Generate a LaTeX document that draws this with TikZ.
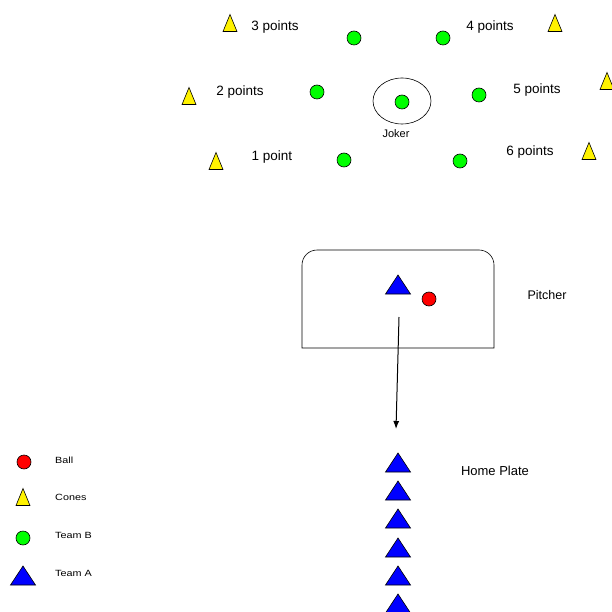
\documentclass[tikz,border=0pt]{standalone}
\usepackage{fontspec}
\setmainfont{Liberation Sans}
\usepackage{tikz}
\usetikzlibrary{calc,arrows,arrows.meta}

\tikzset{
  cone/.pic={\draw[fill=yellow, line width=0.6pt] (-7,8.5) -- (7,8.5) -- (0,-8.5) -- cycle;},
  player/.pic={\draw[fill=blue, line width=0.6pt] (-12.5,9) -- (12.5,9) -- (0,-10) -- cycle;},
  teamb/.style={circle, draw, fill=green, line width=0.6pt, inner sep=0pt, minimum size=14pt},
  ball/.style={circle, draw, fill=red, line width=0.6pt, inner sep=0pt, minimum size=14pt},
  lbl/.style={font=\fontsize{13.5}{15}\selectfont, inner sep=0pt},
  key/.style={font=\fontsize{9}{10}\selectfont, anchor=west, inner sep=0pt, xscale=1.2}
}

\begin{document}
\begin{tikzpicture}[x=1pt, y=-1pt]
			\useasboundingbox (0,0) rectangle (612,612);
			% cones and scores
			\pic at (230,23) {cone};
			\pic at (555,23) {cone};
			\pic at (189,96) {cone};
			\pic at (607,81) {cone};
			\pic at (216,161) {cone};
			\pic at (589,151) {cone};
			\node[lbl] (p3) at (275,27.5) {3 points};
			\node[lbl] (p4) at (490,27.5) {4 points};
			\node[lbl] (p2) at (240,92.5) {2 points};
			\node[lbl] (p5) at (537,90.5) {5 points};
			\node[lbl] (p1) at (272,157.5) {1 point};
			\node[lbl] (p6) at (530,152.5) {6 points};
			% team B in the circle
			\node[teamb] (b1) at (354,38) {};
			\node[teamb] (b2) at (443,38) {};
			\node[teamb] (b3) at (317,92) {};
			\node[teamb] (b4) at (479,95) {};
			\node[teamb] (b5) at (344,160) {};
			\node[teamb] (b6) at (460,161) {};
			\node[teamb] (joker) at (402,102) {};
			\draw[line width=0.6pt] (402,101) ellipse (29 and 23);
			\node[font=\fontsize{11}{12}\selectfont, inner sep=0pt] (jokerlbl) at (396,134) {Joker};
			% pitcher's area
			\draw[line width=0.6pt] (302,348) -- (302,265) arc[start angle=180, end angle=270, radius=15]
				-- (479,250) arc[start angle=270, end angle=360, radius=15] -- (494,348) -- cycle;
			\pic at (398,285) {player};
			\node[ball] (pball) at (429,299) {};
			\node[font=\fontsize{12.5}{14}\selectfont, inner sep=0pt] (pitcher) at (547,295) {Pitcher};
			\coordinate (throw) at (399,317);
			\coordinate (catch) at (396,429);
			\draw[-{Latex[length=8pt,width=6pt]}, line width=1pt] (throw) -- (catch);
			% team A at home plate
			\foreach \y in {463,491,519,548,576,604}
				\pic at (398,\y) {player};
			\node[font=\fontsize{13}{15}\selectfont, inner sep=0pt] (home) at (495,471) {Home Plate};
			% key
			\node[ball] (kball) at (24,462) {};
			\pic at (23,497) {cone};
			\node[teamb] (kteamb) at (23,538) {};
			\pic at (23,576) {player};
			\node[key] (kball lbl) at (55,460) {Ball};
			\node[key] (kcone lbl) at (55,497) {Cones};
			\node[key] (kteamb lbl) at (55,535) {Team B};
			\node[key] (kteama lbl) at (55,573) {Team A};
		\end{tikzpicture}
\end{document}
